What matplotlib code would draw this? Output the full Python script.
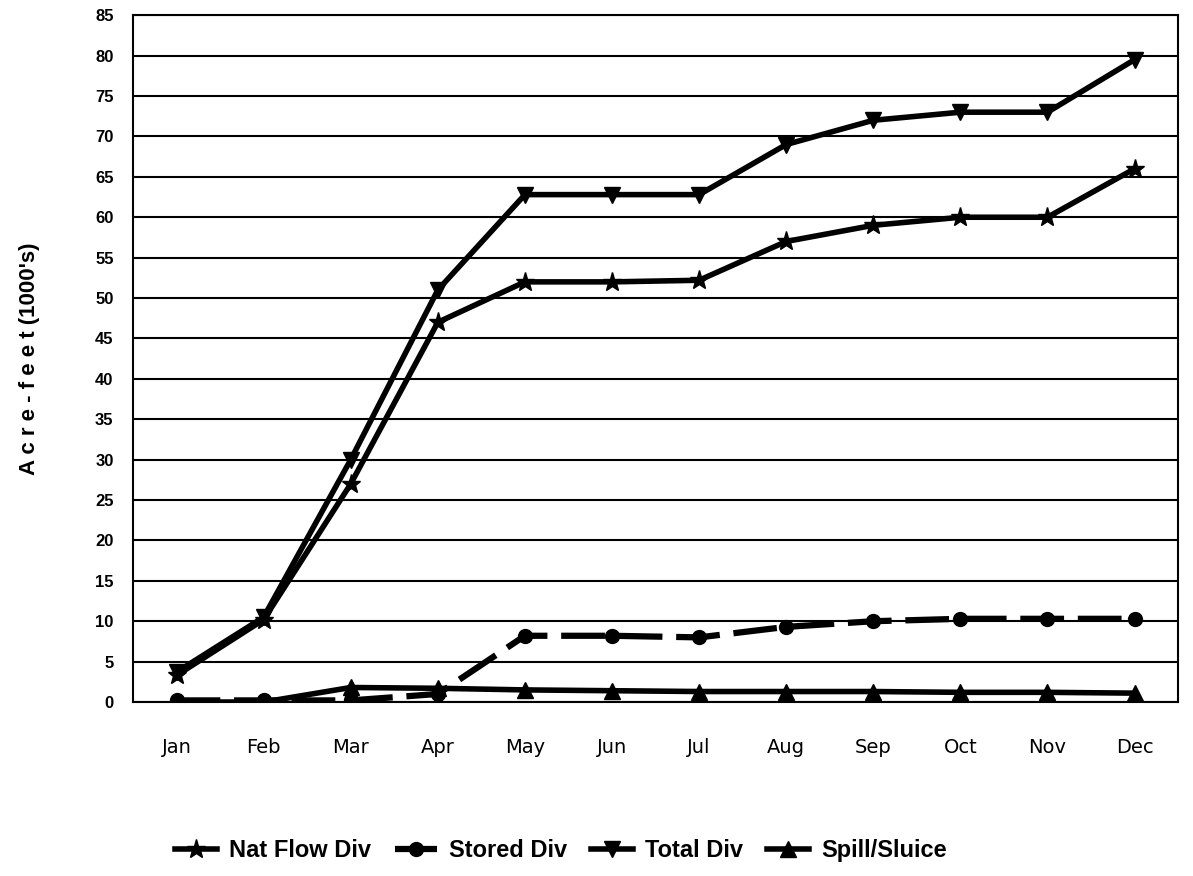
import matplotlib
matplotlib.use('Agg')
import matplotlib.pyplot as plt

meses = ['Jan', 'Feb', 'Mar', 'Apr', 'May', 'Jun', 'Jul', 'Aug', 'Sep', 'Oct', 'Nov', 'Dec']
nat_flow_div = [3.3, 10.2, 27.0, 47.0, 52.0, 52.0, 52.2, 57.0, 59.0, 60.0, 60.0, 66.0]
stored_div = [0.2, 0.2, 0.2, 1.0, 8.2, 8.2, 8.0, 9.3, 10.0, 10.3, 10.3, 10.3]
total_div = [3.7, 10.5, 30.0, 51.0, 62.8, 62.8, 62.8, 69.0, 72.0, 73.0, 73.0, 79.5]
spill_sluice = [0.0, 0.0, 1.8, 1.7, 1.5, 1.4, 1.3, 1.3, 1.3, 1.2, 1.2, 1.1]

plt.rcParams['font.family'] = ['Liberation Sans', 'DejaVu Sans']

fig = plt.figure(figsize=(11.93, 8.76), dpi=100)
ax = fig.add_axes([0.1115, 0.1986, 0.876, 0.784])

x = list(range(len(meses)))
ax.plot(x, nat_flow_div, color='black', lw=4, marker='*', ms=14, label='Nat Flow Div')
ax.plot(x, stored_div, color='black', lw=4.5, marker='o', ms=10, dashes=(7, 2.2), label='Stored Div')
ax.plot(x, total_div, color='black', lw=4, marker='v', ms=11, label='Total Div')
ax.plot(x, spill_sluice, color='black', lw=4, marker='^', ms=11, label='Spill/Sluice')

ax.set_xlim(-0.5, 11.5)
ax.set_ylim(0, 85)
ax.set_yticks(range(0, 90, 5))
ax.set_xticks(x)
ax.set_xticklabels(meses, fontsize=14, family='DejaVu Sans')
ax.tick_params(axis='y', labelsize=12, length=0, pad=14)
ax.tick_params(axis='x', length=0, pad=26)
for t in ax.get_yticklabels():
    t.set_fontweight('bold')
ax.grid(axis='y', color='black', lw=1.5)
ax.set_axisbelow(True)
for s in ax.spines.values():
    s.set_linewidth(1.5)

# etiqueta del eje y con letras espaciadas
ax.set_ylabel("A c r e - f e e t (1000's)", fontsize=16, fontweight='bold', labelpad=40)

fig.legend(loc='center', bbox_to_anchor=(0.47, 0.029), ncol=4, frameon=False,
           prop={'size': 17, 'weight': 'bold'}, handlelength=1.8, handletextpad=0.5,
           columnspacing=1.0)

fig.savefig('out.png', dpi=100)
